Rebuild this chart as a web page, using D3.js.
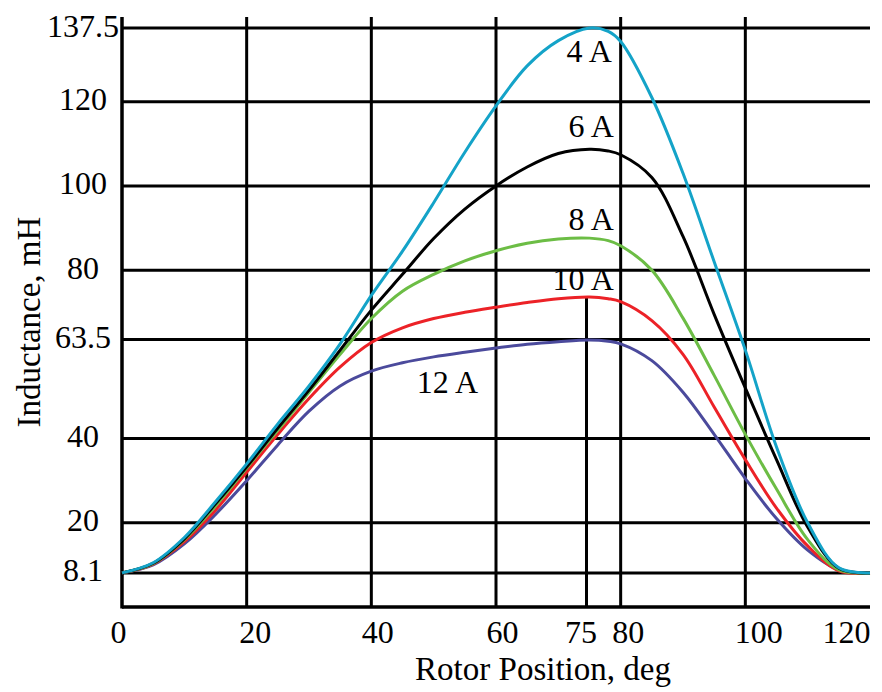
<!DOCTYPE html>
<html>
<head>
<meta charset="utf-8">
<script src="https://cdn.jsdelivr.net/npm/d3@7"></script>
<style>
  html, body { margin: 0; padding: 0; background: #fff; }
  svg { display: block; }
  text { font-family: "Liberation Serif", "Times New Roman", serif; fill: #000; }
</style>
</head>
<body>
<svg id="chart" width="882" height="692"></svg>
<script>
// ---- data ----
const angles = [0, 5, 10, 15, 20, 25, 30, 35, 40, 45, 50, 55, 60, 65, 70, 75, 78, 80, 85, 90, 95, 100, 105, 110, 115, 120];
const current4A  = [8.1, 10.5, 16.5, 25, 34, 43.5, 52.5, 62.5, 74, 84.5, 96, 108, 119, 128.5, 134.5, 137.5, 136.7, 134.3, 121, 103, 82, 61, 38, 20, 9.3, 8.1];
const current6A  = [8.1, 10.4, 16.2, 24.5, 33.3, 42.5, 51.5, 61, 70.5, 79, 87.5, 94.5, 100, 104.5, 107.7, 108.7, 108.3, 107.4, 102, 88, 69.5, 52, 35, 19, 9.2, 8.1];
const current8A  = [8.1, 10.3, 16, 24, 33, 42, 51, 60, 68.5, 75, 79, 82.2, 84.6, 86.4, 87.4, 87.6, 87, 85.8, 80, 68.6, 55, 41, 28, 16, 8.8, 8.1];
const current10A = [8.1, 10.2, 15.5, 23, 32, 41, 49.5, 57, 62.8, 66.3, 68.5, 70, 71.2, 72.3, 73.2, 73.6, 73.2, 72.5, 68, 60, 47.5, 35, 23.5, 14.5, 8.6, 8.1];
const current12A = [8.1, 10, 15, 22, 30, 38.5, 46.5, 52.5, 56, 58, 59.4, 60.5, 61.5, 62.4, 63, 63.4, 63.1, 62.5, 58.5, 51, 41, 30.5, 21, 13.5, 8.8, 8.1];
const seriesNames = ["12 A", "10 A", "8 A", "6 A", "4 A"];
const seriesColors = ["#4b4a9c", "#ec2227", "#6cbd45", "#000000", "#14a3c8"];
const xTicks = [0, 20, 40, 60, 75, 80, 100, 120];
const yTicks = [8.1, 20, 40, 63.5, 80, 100, 120, 137.5];
const xGrid = [20, 40, 60, 80, 100];
// label anchors (deg, mH)
const labelX = [47.3, 78.9, 78.9, 78.9, 78.6];
const labelY = [50.8, 75.3, 89.5, 111.6, 129.4];

// ---- layout ----
const svg = d3.select("#chart");
const x = d3.scaleLinear().domain([0, 120]).range([122, 870]);
const y = d3.scaleLinear().domain([0, 137.5]).range([607, 28]);
const yTop = 140.1;
const black = "#000";

const seriesValues = [current12A, current10A, current8A, current6A, current4A];

// horizontal grid
svg.append("g").selectAll("line").data(yTicks).join("line")
  .attr("x1", x(0)).attr("x2", x(120))
  .attr("y1", d => y(d)).attr("y2", d => y(d))
  .attr("stroke", black).attr("stroke-width", 3);

// vertical grid
svg.append("g").selectAll("line").data(xGrid).join("line")
  .attr("x1", d => x(d)).attr("x2", d => x(d))
  .attr("y1", y(0)).attr("y2", y(yTop))
  .attr("stroke", black).attr("stroke-width", 3);

// 75 deg marker line up to the 10 A peak
svg.append("line")
  .attr("x1", x(75) - 3).attr("x2", x(75) - 3)
  .attr("y1", y(0)).attr("y2", y(d3.max(current10A)))
  .attr("stroke", black).attr("stroke-width", 3);

// axes lines
svg.append("line").attr("x1", x(0)).attr("x2", x(0)).attr("y1", y(0) + 1.5).attr("y2", y(yTop))
  .attr("stroke", black).attr("stroke-width", 3.5);
svg.append("line").attr("x1", x(0)).attr("x2", x(120)).attr("y1", y(0)).attr("y2", y(0))
  .attr("stroke", black).attr("stroke-width", 3.5);

// curves
const line = d3.line().x((d, i) => x(angles[i])).y(d => y(d)).curve(d3.curveCatmullRom.alpha(0.5));
svg.append("g").selectAll("path").data(seriesValues).join("path")
  .attr("d", d => line(d))
  .attr("fill", "none")
  .attr("stroke", (d, i) => seriesColors[i])
  .attr("stroke-width", 3)
  .attr("stroke-linejoin", "round");

// curve labels
svg.append("g").selectAll("text").data(seriesNames).join("text")
  .attr("x", (d, i) => x(labelX[i]))
  .attr("y", (d, i) => y(labelY[i]))
  .attr("text-anchor", (d, i) => i === 0 ? "start" : "end")
  .attr("font-size", 32)
  .text(d => d);

// x axis labels
const xAxis = svg.append("g").attr("transform", `translate(0,${y(0)})`)
  .call(d3.axisBottom(x).tickValues(xTicks).tickSize(0).tickFormat(d3.format("")));
xAxis.select(".domain").remove();
const xShift = {0: -4, 20: 8, 40: 6, 60: 6, 75: -9, 80: 7, 100: 13, 120: -24};
xAxis.selectAll("text")
  .attr("font-family", null)
  .attr("font-size", 32)
  .attr("dy", null)
  .attr("y", 36)
  .attr("x", d => xShift[d] || 0)
  .style("fill", black);

// y axis labels
const yAxis = svg.append("g").attr("transform", `translate(83,0)`)
  .call(d3.axisLeft(y).tickValues(yTicks).tickSize(0).tickPadding(0).tickFormat(d => String(d)));
yAxis.select(".domain").remove();
yAxis.selectAll("text")
  .attr("font-family", null)
  .attr("font-size", 32)
  .attr("text-anchor", "middle")
  .attr("x", 0)
  .attr("dy", null)
  .attr("y", 8)
  .style("fill", black);

// axis titles
svg.append("text")
  .attr("x", 543).attr("y", 680)
  .attr("text-anchor", "middle")
  .attr("font-size", 33)
  .text("Rotor Position, deg");

svg.append("text")
  .attr("transform", "translate(40,322) rotate(-90)")
  .attr("text-anchor", "middle")
  .attr("font-size", 33)
  .text("Inductance, mH");
</script>
</body>
</html>
